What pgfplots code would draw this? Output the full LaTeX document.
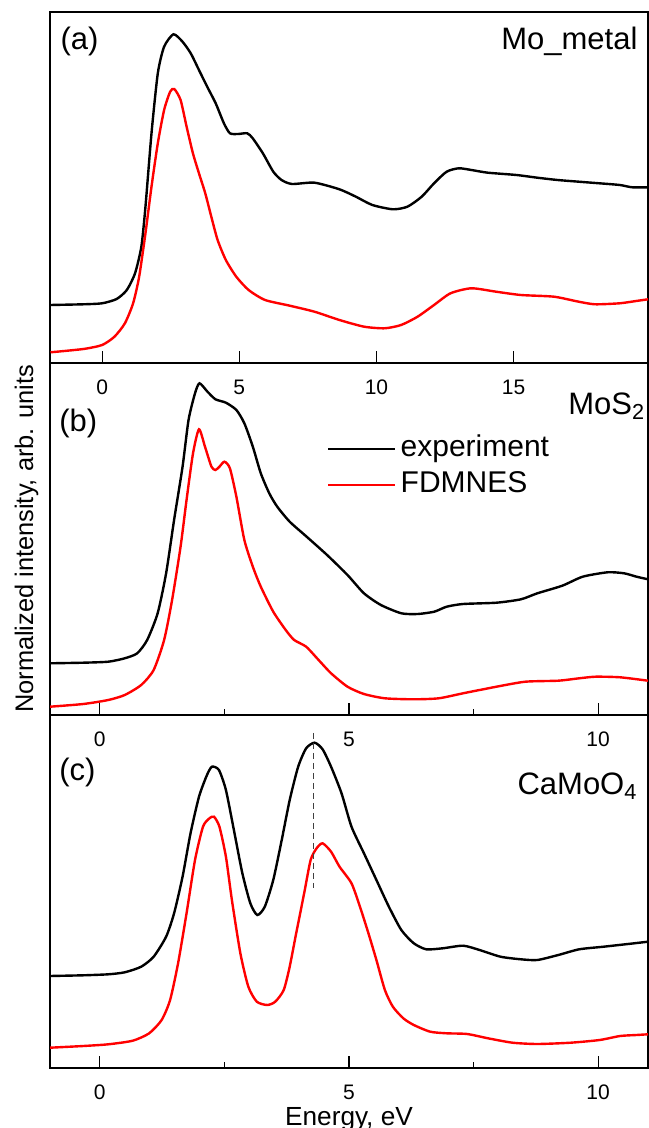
\documentclass[border=0pt]{standalone}
\usepackage{fontspec}
\setmainfont{Liberation Sans}
\usepackage{pgfplots}
\pgfplotsset{compat=1.18}

\tikzset{lbl/.style={font=\fontsize{15.5}{18}\selectfont, inner sep=0pt}}
\pgfplotsset{
  panel/.style={
    scale only axis,
    width=299pt,
    anchor=south west,
    y dir=reverse,
    ytick=\empty,
    xtick pos=bottom,
    tick align=inside,
    major tick length=6pt,
    minor tick length=3.2pt,
    axis line style={line width=0.6pt},
    every tick/.style={black, line width=0.6pt},
    /pgf/number format/assume math mode=true,
    xticklabel style={font=\fontsize{10.5}{12}\selectfont, yshift=-5pt},
    clip=true,
  },
  expline/.style={black, line width=1.2pt, smooth, tension=0.4},
  calcline/.style={red, line width=1.2pt, smooth, tension=0.4},
}

\begin{document}
\begin{tikzpicture}

% ---------- (a) Mo metal ----------
\begin{axis}[panel, at={(25pt,382.5pt)}, height=175.5pt,
    xmin=-1.9, xmax=19.9, ymin=12, ymax=363,
    xtick={0,5,10,15}]
\addplot[expline] coordinates {
 (-1.88,305) (-0.68,304.3) (0,303.3) (0.53,299) (0.9,290) (1.2,273.3) (1.43,246.7)
 (1.58,206.7) (1.8,133.3) (2.03,73.3) (2.26,46.7) (2.6,34.3) (2.93,41.7) (3.23,53.3)
 (3.53,70) (3.83,86.7) (4.14,103.3) (4.44,123.3) (4.66,133.3) (4.96,134) (5.29,133.3)
 (5.49,138.3) (5.86,153.3) (6.24,171.7) (6.54,180) (6.92,184) (7.74,182.7) (8.65,189.3)
 (9.25,196.7) (9.85,205) (10.6,209.3) (11.13,206.7) (11.65,196.7) (12.1,183.3)
 (12.56,171.7) (13.0,168.3) (13.46,170) (14.06,172.7) (15.1,175) (15.86,177.7)
 (16.6,180) (17.37,181.7) (18.12,183.3) (18.87,185) (19.32,187.3) (19.9,187.3)
};
\addplot[calcline] coordinates {
 (-1.88,352.3) (-0.68,349) (0,345) (0.45,336.7) (0.83,323.3) (1.13,303.3) (1.35,276.7)
 (1.58,233.3) (1.8,186.7) (2.03,143.3) (2.26,110) (2.48,91.7) (2.63,89) (2.86,100)
 (3.08,126.7) (3.31,153.3) (3.53,173.3) (3.76,193.3) (3.98,216.7) (4.21,240)
 (4.51,260) (4.89,276.7) (5.34,290) (5.94,300) (6.84,305.7) (7.74,311.7) (8.65,320)
 (9.55,326.7) (10.3,328.3) (10.9,325) (11.5,316.7) (12.1,305) (12.7,293.3)
 (13.46,288.3) (14.36,291.7) (15.26,295) (16.47,296.7) (17.37,301.7) (17.97,304.3)
 (18.87,303.3) (19.47,301) (19.9,299.3)
};
\node[lbl, anchor=base west] at (rel axis cs:0.017,0.892) {(a)};
\node[lbl, anchor=base east] at (rel axis cs:0.983,0.892) {Mo\_metal};
\end{axis}

% ---------- (b) MoS2 ----------
\begin{axis}[panel, at={(25pt,206.5pt)}, height=176pt,
    xmin=-1, xmax=11, ymin=363, ymax=715,
    xtick={0,5,10}, minor xtick={2.5,7.5},
    legend style={at={(0.463,0.704)}, anchor=west, draw=none, fill=none,
      inner sep=0pt, row sep=0pt,
      font=\fontsize{15}{18}\selectfont,
      nodes={text height=10.8pt, text depth=3.2pt, inner sep=2pt},
      /tikz/every even column/.style={column sep=2.5pt}},
    legend cell align=left,
    legend image code/.code={\draw[#1] (0pt,0pt) -- (33.5pt,0pt);}]
\addplot[expline] coordinates {
 (-1.0,663.3) (-0.33,662.7) (0.17,661.7) (0.5,658.3) (0.75,653.3) (0.95,640)
 (1.16,613.3) (1.33,573.3) (1.49,520) (1.66,466.7) (1.78,420) (1.91,393.3) (2.0,383.3)
 (2.16,391.7) (2.32,399.3) (2.53,402.7) (2.74,410) (2.9,423.3) (3.07,446.7)
 (3.23,473.3) (3.4,493.3) (3.56,506.7) (3.81,521.7) (4.15,536.7) (4.56,555)
 (4.97,575) (5.3,593.3) (5.64,605) (6.05,613.3) (6.38,614) (6.71,611.7) (6.96,606.7)
 (7.29,604) (7.96,602.7) (8.45,599.3) (8.78,593.3) (9.28,585.7) (9.69,576.7)
 (10.19,572.3) (10.52,573.3) (10.77,576.7) (11.0,579.3)
};
\addlegendentry{experiment}
\addplot[calcline] coordinates {
 (-1.0,706.7) (-0.33,704) (0.17,700) (0.5,695) (0.83,685) (1.08,670) (1.29,640)
 (1.45,600) (1.62,546.7) (1.74,500) (1.87,453.3) (1.99,429.3) (2.11,446.7)
 (2.24,466.7) (2.32,470) (2.4,466.7) (2.5,461.7) (2.61,468.3) (2.74,496.7) (2.9,540)
 (3.07,566.7) (3.23,586.7) (3.48,611.7) (3.73,630) (3.9,640) (4.14,646.7) (4.39,660)
 (4.64,673.3) (4.97,686.7) (5.3,694) (5.72,698.3) (6.3,699.3) (6.8,698.3)
 (7.29,693.3) (7.96,686.7) (8.54,681.7) (9.2,680.7) (9.62,678.3) (9.95,676.7)
 (10.44,677.3) (11.0,680.7)
};
\addlegendentry{FDMNES}
\node[lbl, anchor=base west] at (rel axis cs:0.015,0.806) {(b)};
\node[lbl, anchor=base east] at (rel axis cs:0.996,0.855) {MoS\textsubscript{2}};
\end{axis}

% ---------- (c) CaMoO4 ----------
\begin{axis}[panel, at={(25pt,30pt)}, height=176.5pt,
    xmin=-1, xmax=11, ymin=715, ymax=1068,
    xtick={0,5,10}, minor xtick={2.5,7.5}]
\addplot[expline] coordinates {
 (-1.0,976) (-0.33,975.3) (0.17,974.3) (0.5,972.3) (0.83,966.7) (1.08,956.7)
 (1.33,936.7) (1.49,913.3) (1.66,876.7) (1.82,833.3) (1.99,796.7) (2.15,775)
 (2.25,766.7) (2.39,770) (2.53,790) (2.69,830) (2.86,873.3) (3.02,903.3) (3.16,915)
 (3.31,906.7) (3.48,880) (3.65,840) (3.81,800) (3.98,766.7) (4.14,748.3) (4.31,742.7)
 (4.47,749.3) (4.64,766.7) (4.85,793.3) (5.05,826.7) (5.3,853.3) (5.55,880)
 (5.8,906.7) (6.05,930) (6.3,943.3) (6.55,949.3) (6.88,948.3) (7.29,945.7) (7.62,950)
 (8.04,956.7) (8.45,959.3) (8.78,960) (9.2,955) (9.62,949.3) (10.11,946.7)
 (10.6,944) (11.0,941.7)
};
\addplot[calcline] coordinates {
 (-1.0,1047.7) (-0.33,1046) (0.17,1044.3) (0.66,1040.7) (0.99,1033.3) (1.24,1020)
 (1.41,1000) (1.57,963.3) (1.74,913.3) (1.91,860) (2.07,826.7) (2.2,818.3)
 (2.29,816.7) (2.4,826.7) (2.53,856.7) (2.65,900) (2.82,953.3) (2.98,986.7)
 (3.15,1001.7) (3.36,1005) (3.52,1001.7) (3.69,990) (3.81,966.7) (3.94,933.3)
 (4.1,893.3) (4.23,860) (4.35,848.3) (4.47,843.3) (4.64,851.7) (4.81,866.7)
 (5.05,883.3) (5.22,906.7) (5.39,933.3) (5.55,960) (5.72,990) (5.88,1006.7)
 (6.09,1018.3) (6.3,1025) (6.63,1031.7) (6.96,1033.3) (7.37,1034) (7.79,1038.3)
 (8.28,1042.7) (8.78,1044) (9.45,1042.7) (10.03,1040) (10.44,1036) (10.77,1035)
 (11.0,1034.3)
};
\addplot[black!75, line width=0.6pt, dash pattern=on 3pt off 2pt] coordinates {(4.29,733) (4.29,888)};
\node[lbl, anchor=base west] at (rel axis cs:0.015,0.815) {(c)};
\node[lbl, anchor=base east] at (rel axis cs:0.983,0.774) {CaMoO\textsubscript{4}};
\end{axis}

% axis titles
\node[rotate=90, anchor=base, inner sep=0pt, font=\fontsize{12.7}{15}\selectfont]
  at (16.5pt,294.5pt) {Normalized intensity, arb. units};
\node[anchor=base, inner sep=0pt, font=\fontsize{13.1}{15}\selectfont]
  at (174.5pt,1.5pt) {Energy, eV};

\pgfresetboundingbox
\path[use as bounding box] (0,0) rectangle (324pt,564pt);
\end{tikzpicture}
\end{document}
